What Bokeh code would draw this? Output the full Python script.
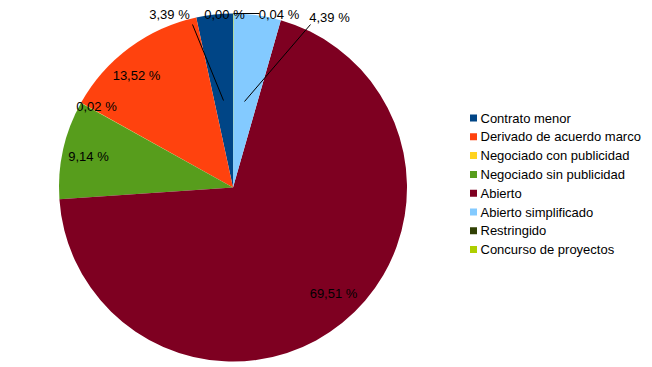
import math
from bokeh.plotting import figure
from bokeh.models import Range1d, ColumnDataSource
from bokeh.core.properties import value
from bokeh.embed import file_html
from bokeh.resources import INLINE

categories = ["Contrato menor", "Derivado de acuerdo marco", "Negociado con publicidad",
              "Negociado sin publicidad", "Abierto", "Abierto simplificado",
              "Restringido", "Concurso de proyectos"]
percent = [3.39, 13.52, 0.02, 9.14, 69.51, 4.39, 0.00, 0.04]
colors = ["#004586", "#ff420e", "#ffd320", "#579d1c", "#7e0021", "#83caff", "#314004", "#aecf00"]

W, H = 652, 367
p = figure(width=W, height=H, output_backend="svg", toolbar_location=None,
           x_range=Range1d(0, W), y_range=Range1d(0, H), min_border=0)
p.axis.visible = False
p.grid.visible = False
p.outline_line_color = None
p.background_fill_color = "white"
p.border_fill_color = "white"

cx, cy, R = 232.5, H - 187, 174
total = sum(percent)
starts, ends, wcol = [], [], []
acc = 0.0
for v, c in zip(percent, colors):
    a0 = math.pi / 2 + 2 * math.pi * acc / total
    acc += v
    a1 = math.pi / 2 + 2 * math.pi * acc / total
    if v > 0:
        starts.append(a0); ends.append(a1); wcol.append(c)

src = ColumnDataSource(dict(start=starts, end=ends, color=wcol))
p.wedge(x=cx, y=cy, radius=R, start_angle="start", end_angle="end",
        fill_color="color", line_color=None, source=src)

def fmt(v):
    return ("%.2f" % v).replace(".", ",") + " %"

# label anchor positions (image pixels, centre of text)
label_pos = [(169, 14), (136, 75), (96, 106), (88, 156), (333, 293), (329, 17), (224, 13.5), (278.5, 13.5)]
p.text(x=[x for x, _ in label_pos], y=[H - y for _, y in label_pos],
       text=[fmt(v) for v in percent], text_align="center", text_baseline="middle",
       text_font=value("Liberation Sans"), text_font_size="13px", text_color="black")

# leader lines
p.segment(x0=[192, 310, 233], y0=[H - 24, H - 24, H - 13],
          x1=[223, 244, 259], y1=[H - 100, H - 101, H - 13],
          line_color="black", line_width=1)

# legend
ys = [117.5 + 18.8 * i for i in range(len(categories))]
p.rect(x=[473] * len(categories), y=[H - y for y in ys], width=7, height=7,
       fill_color=colors, line_color=None)
p.text(x=[480] * len(categories), y=[H - y for y in ys], text=categories,
       text_align="left", text_baseline="middle",
       text_font=value("Liberation Sans"), text_font_size="13px", text_color="black")

open("out.html", "w").write(file_html(p, INLINE))
